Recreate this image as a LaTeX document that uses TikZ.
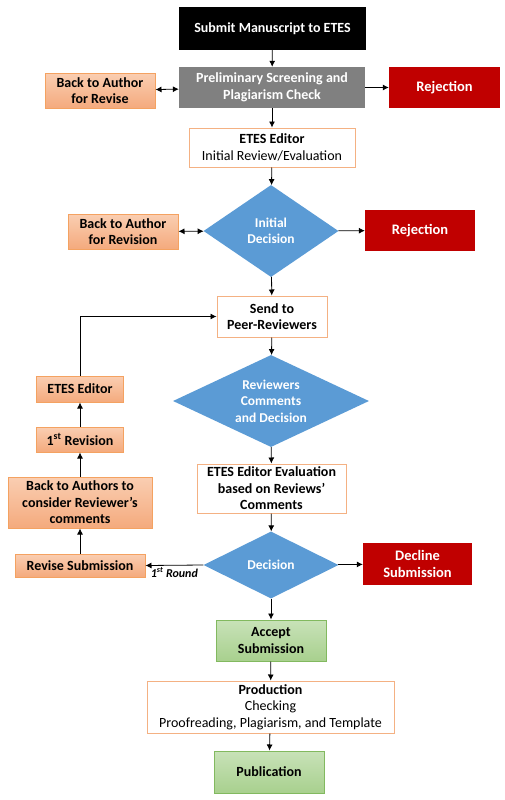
\documentclass[tikz,border=0pt]{standalone}
\usepackage{fontspec}
\setmainfont{Carlito}
\usepackage{xcolor}
\usepackage{tikz}
\usetikzlibrary{shapes.geometric, arrows.meta, positioning, shadings}
\definecolor{ETESOrange}{RGB}{244,162,97}
\definecolor{ETESSalmonTop}{RGB}{250,206,178}
\definecolor{ETESSalmonBot}{RGB}{244,170,125}
\definecolor{ETESPeach}{RGB}{244,177,131}
\definecolor{ETESRed}{RGB}{192,0,0}
\definecolor{ETESBlue}{RGB}{91,155,213}
\definecolor{ETESGray}{RGB}{128,128,128}
\definecolor{ETESGreen}{RGB}{130,185,95}
\definecolor{ETESGreenTop}{RGB}{200,226,184}
\definecolor{ETESGreenBot}{RGB}{168,208,142}

\tikzset{
    every node/.style={align=center, inner sep=1pt, font=\fontsize{14}{16.5}\selectfont},
    box/.style={rectangle, minimum width=#1},
    author/.style={box=#1, draw=ETESOrange, line width=1pt, top color=ETESSalmonTop, bottom color=ETESSalmonBot, font=\fontsize{14}{16.5}\selectfont\bfseries},
    editor/.style={box=#1, draw=ETESPeach, line width=1pt, fill=white},
    reject/.style={box=#1, fill=ETESRed, text=white, font=\fontsize{14.5}{16.5}\selectfont\bfseries},
    accept/.style={box=#1, draw=ETESGreen, line width=1pt, top color=ETESGreenTop, bottom color=ETESGreenBot, font=\fontsize{14}{16.5}\selectfont\bfseries},
    decide/.style={diamond, fill=ETESBlue, text=white, aspect=1.5, inner sep=0pt, font=\fontsize{13.5}{16.5}\selectfont\bfseries},
    flow/.style={-{Latex[length=6pt, width=6pt]}, line width=0.8pt},
    twoway/.style={{Latex[length=6pt, width=6pt]}-{Latex[length=6pt, width=6pt]}, line width=0.8pt}
}

\begin{document}
\begin{tikzpicture}[x=1pt, y=-1pt]
    \useasboundingbox (0,0) rectangle (505,800);

    % main column
    \node[box=187pt, minimum height=43pt, fill=black, text=white, font=\fontsize{14}{16.5}\selectfont\bfseries] (submit) at (272.5,28.5) {Submit Manuscript to ETES};
    \node[box=186pt, minimum height=41pt, fill=ETESGray, text=white, font=\fontsize{14}{16.5}\selectfont\bfseries] (screen) at (272,87.5) {Preliminary Screening and\\Plagiarism Check};
    \node[editor=166pt, minimum height=39pt] (initrev) at (272,147.5) {\textbf{ETES Editor}\\Initial Review/Evaluation};
    \node[decide, minimum width=135pt, minimum height=92pt] (initdec) at (271,231) {Initial\\Decision};
    \node[editor=110pt, minimum height=41pt, font=\fontsize{14}{16.5}\selectfont\bfseries] (peer) at (272,316.5) {Send to\\Peer-Reviewers};
    \node[decide, minimum width=196pt, minimum height=92pt] (revdec) at (271,401) {Reviewers\\Comments\\and Decision};
    \node[editor=149pt, minimum height=49pt, font=\fontsize{14}{16.5}\selectfont\bfseries] (evalrev) at (271.5,488.5) {ETES Editor Evaluation\\based on Reviews'\\Comments};
    \node[decide, minimum width=135pt, minimum height=67pt] (decision) at (271,565) {Decision};
    \node[accept=110pt, minimum height=41pt] (accept) at (271,640.5) {Accept\\Submission};
    \node[editor=247pt, minimum height=52pt] (produce) at (270.5,707) {\textbf{Production}\\Checking\\Proofreading, Plagiarism, and Template};
    \node[accept=110pt, minimum height=42pt] (publish) at (269,772) {Publication};

    % left side
    \node[author=110pt, minimum height=35pt] (backrevise) at (100,90.5) {Back to Author\\for Revise};
    \node[author=110pt, minimum height=35pt] (backrevision) at (123,231.5) {Back to Author\\for Revision};
    \node[author=87pt, minimum height=26pt] (leftedit) at (80,389) {ETES Editor};
    \node[author=87pt, minimum height=25pt] (firstrev) at (80,439.5) {1\textsuperscript{st} Revision};
    \node[author=144pt, minimum height=51pt] (consider) at (80,502.5) {Back to Authors to\\consider Reviewer's\\comments};
    \node[author=130pt, minimum height=23pt] (resubmit) at (80,565.5) {Revise Submission};

    % right side
    \node[reject=111pt, minimum height=41pt] (reject1) at (444.5,87.5) {Rejection};
    \node[reject=110pt, minimum height=41pt] (reject2) at (420,230.5) {Rejection};
    \node[reject=109pt, minimum height=42pt] (decline) at (417.5,564) {Decline\\Submission};

    % arrows down the column
    \draw[flow] (submit) -- (screen);
    \draw[flow] (screen) -- (initrev);
    \draw[flow] (initrev) -- (initdec);
    \draw[flow] (initdec) -- (peer);
    \draw[flow] (peer) -- (revdec);
    \draw[flow] (revdec) -- (evalrev);
    \draw[flow] (evalrev) -- (decision);
    \draw[flow] (decision) -- (accept);
    \draw[flow] (accept) -- (produce);
    \draw[flow] (produce) -- (publish);

    % side branches
    \draw[twoway] (backrevise) -- (screen);
    \draw[flow] (screen) -- (reject1);
    \draw[twoway] (backrevision) -- (initdec);
    \draw[flow] (initdec) -- (reject2);
    \draw[flow] (decision) -- (decline);
    \draw[flow] (decision.west) -- (resubmit.east) node[pos=0.5, below, yshift=-1pt, font=\fontsize{12}{14}\selectfont\bfseries\itshape] {1\textsuperscript{st} Round};

    % revision loop
    \draw[flow] (resubmit) -- (consider);
    \draw[flow] (consider) -- (firstrev);
    \draw[flow] (firstrev) -- (leftedit);
    \draw[flow] (leftedit.north) |- (peer.west);
\end{tikzpicture}
\end{document}
